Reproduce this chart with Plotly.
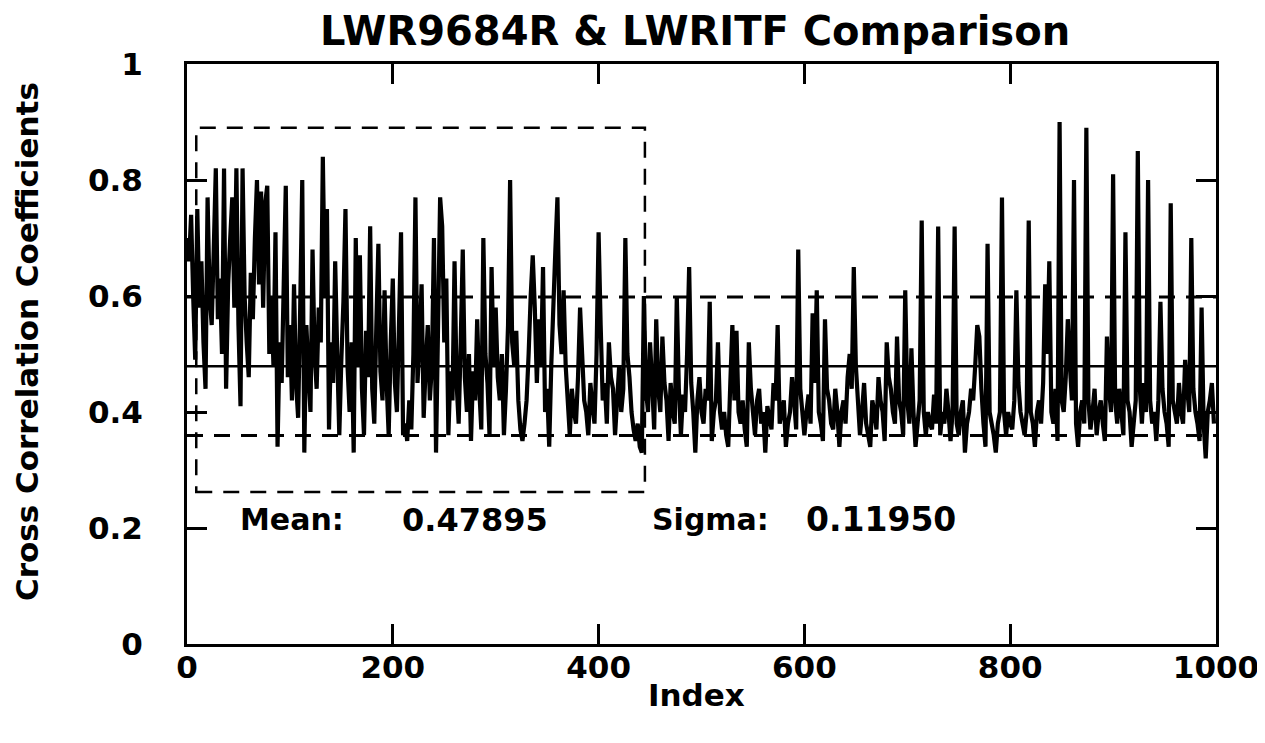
import plotly.graph_objects as go

# ---- data ----
TITLE = "LWR9684R & LWRITF Comparison"
X_TITLE = "Index"
Y_TITLE = "Cross Correlation Coefficients"

MEAN = 0.47895
SIGMA = 0.11950

x_tickvals = [0, 200, 400, 600, 800, 1000]
x_ticktext = ["0", "200", "400", "600", "800", "1000"]
y_tickvals = [0, 0.2, 0.4, 0.6, 0.8, 1.0]
y_ticktext = ["0", "0.2", "0.4", "0.6", "0.8", "1"]

# sample index (every second index of the 0..999 series)
index = list(range(0, 1000, 2))

cc_000 = [0.70, 0.66, 0.74, 0.60, 0.49, 0.75, 0.58, 0.66, 0.52, 0.44,
          0.77, 0.60, 0.55, 0.68, 0.82, 0.56, 0.63, 0.50, 0.82, 0.44,
          0.62, 0.70, 0.77, 0.58, 0.82, 0.55, 0.41, 0.82, 0.60, 0.52,
          0.46, 0.64, 0.56, 0.70, 0.80, 0.62, 0.78, 0.58, 0.76, 0.79,
          0.50, 0.60, 0.48, 0.71, 0.34, 0.52, 0.45, 0.62, 0.79, 0.46]
cc_100 = [0.55, 0.42, 0.62, 0.45, 0.39, 0.58, 0.80, 0.33, 0.55, 0.47,
          0.40, 0.68, 0.50, 0.44, 0.58, 0.52, 0.84, 0.60, 0.75, 0.37,
          0.52, 0.45, 0.66, 0.50, 0.36, 0.49, 0.59, 0.75, 0.48, 0.40,
          0.52, 0.33, 0.70, 0.48, 0.67, 0.44, 0.36, 0.54, 0.46, 0.72,
          0.44, 0.38, 0.55, 0.69, 0.47, 0.42, 0.61, 0.45, 0.36, 0.52]
cc_200 = [0.63, 0.45, 0.40, 0.55, 0.71, 0.36, 0.38, 0.35, 0.42, 0.37,
          0.50, 0.77, 0.45, 0.52, 0.62, 0.39, 0.48, 0.55, 0.42, 0.48,
          0.70, 0.33, 0.55, 0.77, 0.72, 0.52, 0.63, 0.36, 0.47, 0.42,
          0.66, 0.45, 0.38, 0.52, 0.68, 0.46, 0.40, 0.50, 0.35, 0.47,
          0.42, 0.56, 0.44, 0.37, 0.70, 0.50, 0.45, 0.36, 0.65, 0.48]
cc_300 = [0.58, 0.46, 0.42, 0.50, 0.36, 0.44, 0.55, 0.80, 0.52, 0.48,
          0.54, 0.42, 0.37, 0.35, 0.38, 0.42, 0.50, 0.60, 0.67, 0.58,
          0.45, 0.56, 0.48, 0.65, 0.40, 0.44, 0.34, 0.48, 0.58, 0.68,
          0.77, 0.55, 0.50, 0.61, 0.48, 0.42, 0.36, 0.44, 0.40, 0.38,
          0.46, 0.58, 0.50, 0.42, 0.40, 0.36, 0.45, 0.41, 0.38, 0.50]
cc_400 = [0.71, 0.55, 0.42, 0.45, 0.38, 0.52, 0.46, 0.44, 0.36, 0.42,
          0.48, 0.40, 0.44, 0.70, 0.50, 0.46, 0.40, 0.37, 0.35, 0.38,
          0.34, 0.33, 0.60, 0.44, 0.40, 0.52, 0.45, 0.37, 0.56, 0.44,
          0.40, 0.53, 0.45, 0.42, 0.35, 0.45, 0.40, 0.38, 0.60, 0.44,
          0.36, 0.43, 0.40, 0.50, 0.65, 0.45, 0.40, 0.33, 0.42, 0.46]
cc_500 = [0.40, 0.38, 0.44, 0.42, 0.59, 0.35, 0.40, 0.42, 0.52, 0.40,
          0.37, 0.40, 0.36, 0.34, 0.45, 0.55, 0.42, 0.54, 0.40, 0.38,
          0.42, 0.37, 0.34, 0.52, 0.44, 0.40, 0.36, 0.42, 0.44, 0.38,
          0.40, 0.33, 0.41, 0.39, 0.37, 0.45, 0.42, 0.55, 0.38, 0.40,
          0.42, 0.34, 0.38, 0.40, 0.46, 0.42, 0.37, 0.68, 0.44, 0.40]
cc_600 = [0.36, 0.40, 0.43, 0.38, 0.57, 0.45, 0.61, 0.40, 0.38, 0.35,
          0.56, 0.44, 0.42, 0.38, 0.37, 0.44, 0.40, 0.34, 0.40, 0.42,
          0.38, 0.46, 0.50, 0.44, 0.65, 0.48, 0.42, 0.36, 0.40, 0.45,
          0.38, 0.36, 0.34, 0.42, 0.40, 0.37, 0.46, 0.42, 0.40, 0.35,
          0.52, 0.46, 0.44, 0.40, 0.38, 0.53, 0.42, 0.40, 0.36, 0.61]
cc_700 = [0.42, 0.38, 0.51, 0.40, 0.34, 0.38, 0.42, 0.73, 0.40, 0.36,
          0.40, 0.38, 0.37, 0.43, 0.38, 0.72, 0.36, 0.40, 0.38, 0.44,
          0.40, 0.35, 0.40, 0.72, 0.38, 0.36, 0.40, 0.42, 0.33, 0.38,
          0.40, 0.44, 0.42, 0.48, 0.55, 0.53, 0.44, 0.38, 0.34, 0.69,
          0.40, 0.38, 0.36, 0.33, 0.38, 0.40, 0.77, 0.40, 0.36, 0.40]
cc_800 = [0.38, 0.37, 0.42, 0.61, 0.45, 0.40, 0.38, 0.36, 0.40, 0.73,
          0.40, 0.38, 0.34, 0.40, 0.42, 0.38, 0.45, 0.62, 0.50, 0.66,
          0.40, 0.38, 0.44, 0.35, 0.90, 0.42, 0.40, 0.46, 0.56, 0.48,
          0.42, 0.80, 0.38, 0.34, 0.40, 0.42, 0.38, 0.89, 0.42, 0.37,
          0.40, 0.44, 0.36, 0.40, 0.42, 0.38, 0.35, 0.53, 0.44, 0.40]
cc_900 = [0.81, 0.42, 0.38, 0.44, 0.40, 0.36, 0.71, 0.42, 0.40, 0.34,
          0.38, 0.42, 0.85, 0.44, 0.38, 0.45, 0.40, 0.80, 0.42, 0.38,
          0.40, 0.35, 0.42, 0.59, 0.44, 0.40, 0.38, 0.34, 0.76, 0.42,
          0.40, 0.38, 0.45, 0.40, 0.38, 0.49, 0.44, 0.40, 0.70, 0.44,
          0.40, 0.38, 0.35, 0.58, 0.38, 0.32, 0.40, 0.42, 0.45, 0.38]

cc = cc_000 + cc_100 + cc_200 + cc_300 + cc_400 + cc_500 + cc_600 + cc_700 + cc_800 + cc_900

# dashed region box (index range, coefficient range)
BOX_X = [9, 445]
BOX_Y = [0.262, 0.89]

# ---- figure ----
FONT = "DejaVu Sans"
BODY = 8                      # default page margin around the plot div
W, H = 1265 - BODY, 743 - 2 * BODY
PL, PR, PT, PB = 187, 1216, 64, 644   # plot area in page pixels
L, R, T, B = PL - BODY, W - (PR - BODY), PT - BODY, H - (PB - BODY)
PW, PH = PR - PL, PB - PT


def px_to_paper(px, py):
    return (px - PL) / PW, (PB - py) / PH


fig = go.Figure()
fig.add_trace(go.Scatter(x=index, y=cc, mode="lines",
                         line=dict(color="black", width=4.2, simplify=False),
                         showlegend=False, hoverinfo="skip"))

dash_pat = "16px,11px"
fig.add_shape(type="line", xref="x", yref="y", x0=0, x1=1000, y0=MEAN, y1=MEAN,
              line=dict(color="black", width=2.5), layer="above")
for yv in (MEAN + SIGMA, MEAN - SIGMA):
    fig.add_shape(type="line", xref="x", yref="y", x0=0, x1=1000, y0=yv, y1=yv,
                  line=dict(color="black", width=3, dash=dash_pat), layer="above")
fig.add_shape(type="rect", xref="x", yref="y", x0=BOX_X[0], x1=BOX_X[1],
              y0=BOX_Y[0], y1=BOX_Y[1],
              line=dict(color="black", width=2.5, dash=dash_pat), layer="above")

for txt, xv, sz in (("Mean:", 50, 30), ("0.47895", 207, 32),
                    ("Sigma:", 450, 30), ("0.11950", 600, 33)):
    fig.add_annotation(x=xv, y=0.214, xref="x", yref="y", text=txt, showarrow=False,
                       xanchor="left", yanchor="middle",
                       font=dict(family=FONT, size=sz, color="black", weight="bold"))

ax, ay = px_to_paper(27, 342)
fig.add_annotation(x=ax, y=ay, xref="paper", yref="paper", text=Y_TITLE, textangle=-90,
                   showarrow=False, xanchor="center", yanchor="middle",
                   font=dict(family=FONT, size=31, color="black", weight="bold"))
ax, ay = px_to_paper(696, 695)
fig.add_annotation(x=ax, y=ay, xref="paper", yref="paper", text=X_TITLE,
                   showarrow=False, xanchor="center", yanchor="middle",
                   font=dict(family=FONT, size=31, color="black", weight="bold"))

axis_common = dict(showgrid=False, zeroline=False, showline=True, linecolor="black",
                   linewidth=3, mirror="ticks", ticks="inside", ticklen=20,
                   tickwidth=3, tickcolor="black", automargin=False,
                   ticklabeloverflow="allow",
                   tickfont=dict(family=FONT, size=31, color="black", weight="bold"))

fig.update_layout(
    width=W, height=H,
    margin=dict(l=L, r=R, t=T, b=B, pad=0),
    paper_bgcolor="white", plot_bgcolor="white",
    title=dict(text=TITLE, x=(695 - BODY) / W, y=1 - (31 - BODY) / H,
               xref="container", yref="container",
               xanchor="center", yanchor="middle",
               font=dict(family=FONT, size=40, color="black", weight="bold")),
    xaxis=dict(range=[0, 1000], tickvals=x_tickvals, ticktext=x_ticktext,
               ticklabelstandoff=-6, **axis_common),
    yaxis=dict(range=[0, 1], tickvals=y_tickvals, ticktext=y_ticktext,
               ticklabelstandoff=35, **axis_common),
)

fig.write_html("out.html")
